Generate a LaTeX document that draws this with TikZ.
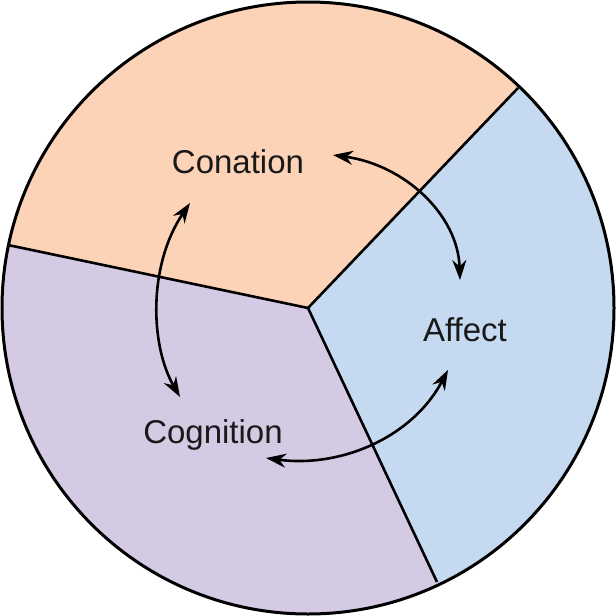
\documentclass[tikz,border=0pt]{standalone}
\usepackage{fontspec}
\setmainfont{Liberation Sans}
\usetikzlibrary{arrows.meta}
\definecolor{peach}{HTML}{FDD3B8}
\definecolor{lblue}{HTML}{C5DAF0}
\definecolor{lpurp}{HTML}{D5CAE4}
\begin{document}
\begin{tikzpicture}[x=1pt,y=-1pt,
  lbl/.style={font=\fontsize{33}{38}\selectfont, text=black!90},
  arr/.style={line width=2.6pt,{Stealth[length=20pt,width=14pt]}-{Stealth[length=20pt,width=14pt]}}]
\useasboundingbox (0,0) rectangle (616,616);
\coordinate (O) at (308,308);
\coordinate (A) at (518,88);
\coordinate (B) at (8,245);
\coordinate (C) at (437,582);
\begin{scope}
\clip (308,308) circle (306);
\fill[peach] (O) -- (A) -- (700,-100) -- (-100,-100) -- (-100,225) -- (B) -- cycle;
\fill[lblue] (O) -- (A) -- (700,-100) -- (700,700) -- (480,700) -- (C) -- cycle;
\fill[lpurp] (O) -- (B) -- (-100,225) -- (-100,700) -- (480,700) -- (C) -- cycle;
\end{scope}
\draw[line width=2.6pt] (O) -- (A) (O) -- (B) (O) -- (C);
\draw[line width=3pt] (308,308) circle (306);
\node[lbl] (con) at (238,162) {Conation};
\node[lbl] (aff) at (465,330) {Affect};
\node[lbl] (cog) at (213,435) {Cognition};
\coordinate (c1) at (333,155);
\coordinate (a1) at (460,280);
\coordinate (c2) at (190,203);
\coordinate (g1) at (180,397);
\coordinate (a2) at (448,370);
\coordinate (g2) at (266,458);
\draw[arr] (c1) .. controls (405,165) and (458,215) .. (a1);
\draw[arr] (c2) .. controls (148,265) and (150,345) .. (g1);
\draw[arr] (a2) .. controls (412,438) and (340,468) .. (g2);
\end{tikzpicture}
\end{document}
